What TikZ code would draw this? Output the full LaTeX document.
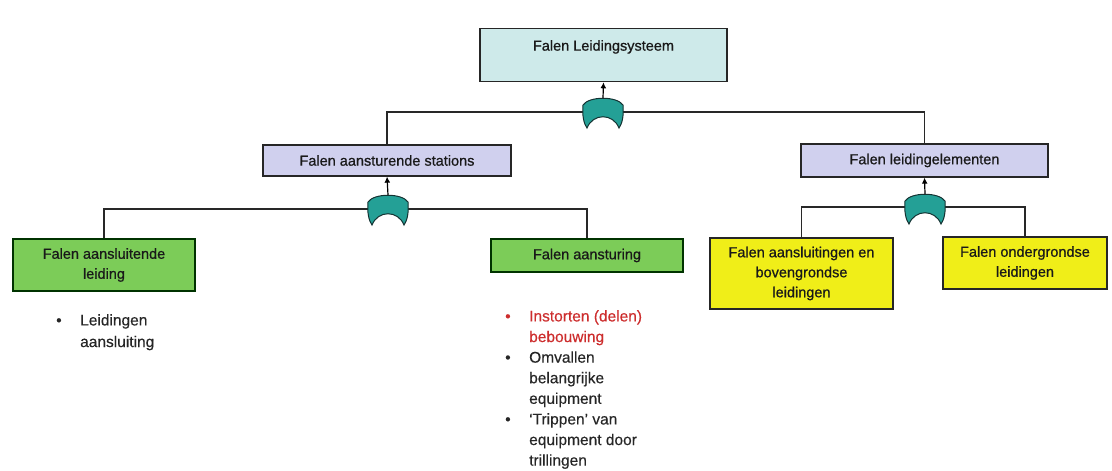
\documentclass[tikz,border=0pt]{standalone}
\usepackage{fontspec}
\setmainfont{Liberation Sans}
\newfontfamily\boxfont{Liberation Sans}[Ligatures=TeX, FakeBold=0.7]
\newfontfamily\listfont{Liberation Sans}[Ligatures=TeX, FakeBold=0.3]
\usetikzlibrary{arrows.meta}
\definecolor{cyanbox}{RGB}{206,234,234}
\definecolor{lavbox}{RGB}{208,208,238}
\definecolor{greenbox}{RGB}{124,204,88}
\definecolor{yellowbox}{RGB}{240,238,24}
\definecolor{gatefill}{RGB}{36,160,150}
\definecolor{gateline}{RGB}{20,50,50}
\definecolor{redtext}{RGB}{205,45,45}
\definecolor{linecol}{RGB}{40,40,40}
\begin{document}
\begin{tikzpicture}[x=1pt,y=-1pt,
  box/.style={draw=black!85, line width=1.3pt, inner sep=3pt, align=center,
    font=\boxfont\fontsize{14.5}{20}\selectfont, text=black!90},
  conn/.style={draw=linecol, line width=1.3pt},
  arr/.style={draw=black, line width=1.2pt, -{Latex[length=6pt,width=6pt]}},
  bullets/.style={align=left, inner sep=0pt, anchor=north west,
    font=\listfont\fontsize{15.5}{20.6}\selectfont, text=black!85},
  orgate/.pic={
    \path[fill=gatefill, draw=gateline, line width=1pt]
      (-20,7) .. controls (-14,-2) and (14,-2) .. (20,7)
      .. controls (21,18) and (19,26) .. (16,30)
      .. controls (10,15) and (-10,15) .. (-16,30)
      .. controls (-19,26) and (-21,18) .. (-20,7) -- cycle;
    \coordinate (-top) at (0,0);
  }
]
\useasboundingbox[fill=white] (0,0) rectangle (1112,471);

% boxes
\node[box, fill=cyanbox, minimum width=247, text height=18, text depth=27, inner ysep=4, anchor=north]
  (b0) at (603.5,28) {Falen Leidingsysteem};
\node[box, fill=lavbox, minimum width=248, minimum height=31] (b1) at (387,160.5) {Falen aansturende stations};
\node[box, fill=lavbox, minimum width=247, minimum height=33] (b2) at (924.5,160.5) {Falen leidingelementen};
\node[box, fill=greenbox, draw=black!80!green, minimum width=182, minimum height=52] (b3) at (104,265) {Falen aansluitende\\leiding};
\node[box, fill=greenbox, draw=black!80!green, minimum width=192, minimum height=33] (b4) at (587,255.5) {Falen aansturing};
\node[box, fill=yellowbox, minimum width=183, minimum height=71] (b5) at (801.5,273.5) {Falen aansluitingen en\\bovengrondse\\leidingen};
\node[box, fill=yellowbox, minimum width=164, minimum height=52] (b6) at (1025,263) {Falen ondergrondse\\leidingen};

% gate anchors
\coordinate (g1c) at (603,98);
\coordinate (g2c) at (388,195);
\coordinate (g3c) at (925,194);

% connectors level 1
\draw[conn] (b1.north) -- (b1.north |- 0,112) -- (b2.north |- 0,112) -- (b2.north);
\pic (g1) at (g1c) {orgate};
\draw[arr] (g1-top) -- (b0.south);

% connectors level 2 left
\draw[conn] (b3.north) -- ([yshift=-14pt]b3.north |- g2c) -- ([yshift=-14pt]b4.north |- g2c) -- (b4.north);
\pic (g2) at (g2c) {orgate};
\draw[arr] (g2-top) -- (b1.south);

% connectors level 2 right
\draw[conn] (b5.north) -- ([yshift=-13pt]b5.north |- g3c) -- ([yshift=-13pt]b6.north |- g3c) -- (b6.north);
\pic (g3) at (g3c) {orgate};
\draw[arr] (g3-top) -- (b2.south);

% bullet lists
\node[bullets] (l1) at (56,314) {\makebox[24pt][l]{•}Leidingen\\[1pt]\hspace*{24pt}aansluiting};
\node[bullets] (l2) at (505,310) {%
  \textcolor{redtext}{\makebox[24pt][l]{•}Instorten (delen)}\\
  \hspace*{24pt}\textcolor{redtext}{bebouwing}\\
  \makebox[24pt][l]{•}Omvallen\\
  \hspace*{24pt}belangrijke\\
  \hspace*{24pt}equipment\\
  \makebox[24pt][l]{•}`Trippen' van\\
  \hspace*{24pt}equipment door\\
  \hspace*{24pt}trillingen};
\end{tikzpicture}
\end{document}
